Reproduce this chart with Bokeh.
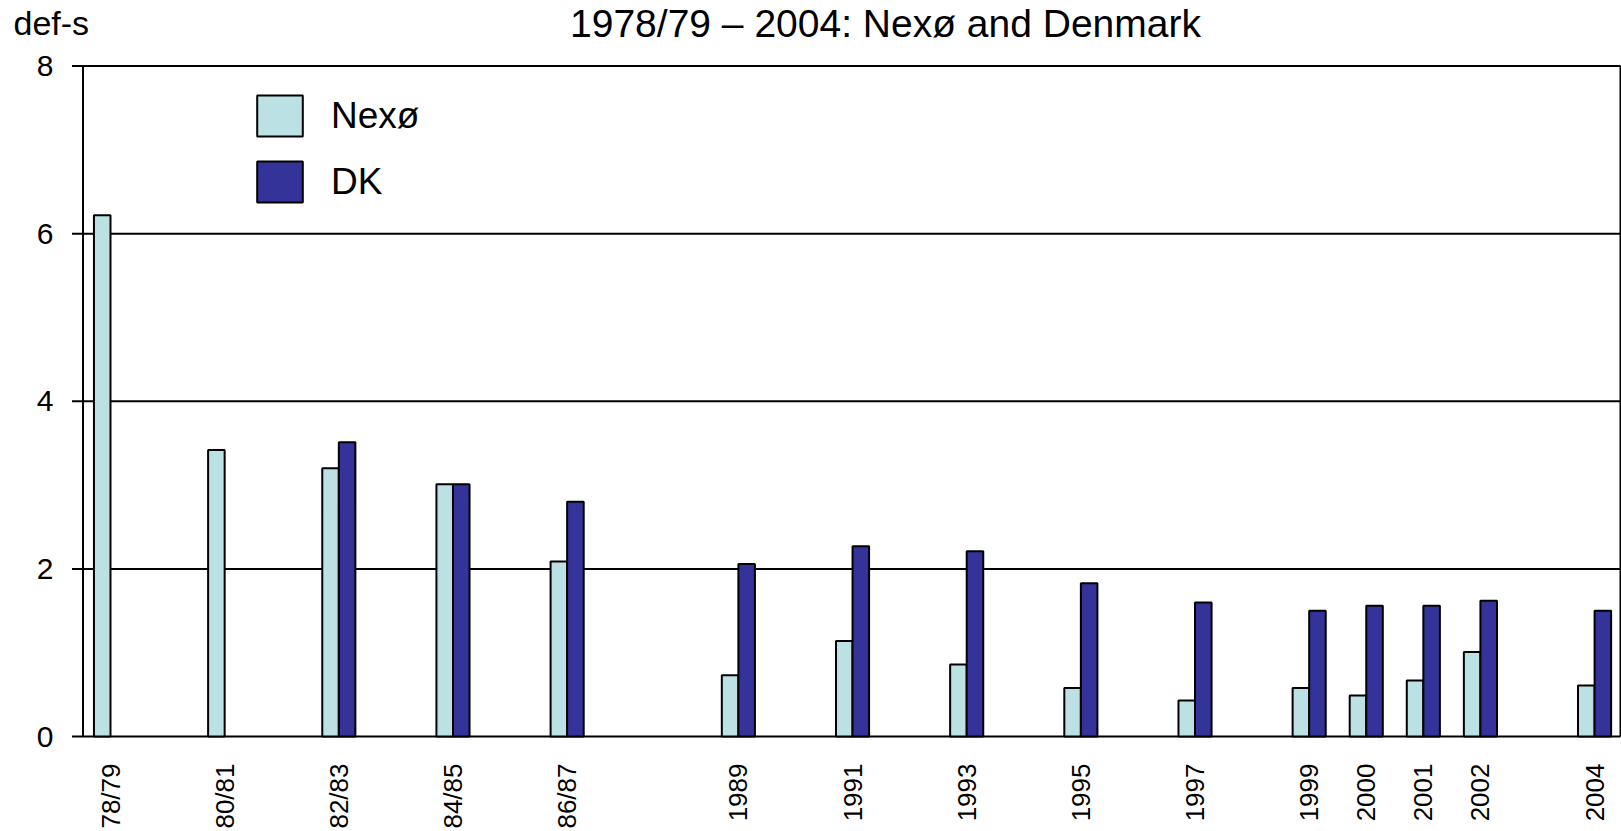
from bokeh.plotting import figure
from bokeh.models import ColumnDataSource, Range1d, FixedTicker, Legend, LegendItem
from bokeh.core.properties import value
from bokeh.transform import dodge
from bokeh.embed import file_html
from bokeh.resources import INLINE

# Survey years (numeric positions on the time axis) and their printed labels
years = [1978, 1980, 1982, 1984, 1986, 1989, 1991, 1993, 1995, 1997,
         1999, 2000, 2001, 2002, 2004]
year_labels = ["78/79", "80/81", "82/83", "84/85", "86/87", "1989", "1991",
               "1993", "1995", "1997", "1999", "2000", "2001", "2002", "2004"]

# def-s values
nexo = [6.22, 3.42, 3.20, 3.01, 2.09, 0.73, 1.14, 0.86, 0.58, 0.43,
        0.58, 0.49, 0.67, 1.01, 0.61]
dk = [None, None, 3.51, 3.01, 2.80, 2.06, 2.27, 2.21, 1.83, 1.60,
      1.50, 1.56, 1.56, 1.62, 1.50]

y_ticks = [0, 2, 4, 6, 8]
y_tick_labels = ["0", "2", "4", "6", "8"]

title_text = "1978/79 \u2013 2004: Nex\u00f8 and Denmark"
unit_text = "def-s"

FONT = "Liberation Sans"
NEXO_COLOR = "#BCE1E4"
DK_COLOR = "#333399"
BAR_W = 0.29

# Canvas geometry: the frame covers the whole canvas except the year-label strip
# at the bottom, so the value axis, the title and the unit text are drawn inside it.
W, H = 1621, 831
ZERO_PY = 738            # canvas row of value 0
FRAME_H = 762            # frame reaches a little below the zero line
PX_PER_YEAR = 57.08
PX_PER_UNIT = 84.04
X_START = 1978 - 110 / PX_PER_YEAR          # year at the canvas' left edge


def x_at(px):
    return X_START + px / PX_PER_YEAR


def y_at(py):
    return (ZERO_PY - py) / PX_PER_UNIT


PLOT_LEFT = x_at(82.5)      # value axis
PLOT_RIGHT = x_at(1620)     # right border
TICK_LEN = 11 / PX_PER_YEAR

src_nexo = ColumnDataSource(dict(year=years, value=nexo))
dk_years = [y for y, v in zip(years, dk) if v is not None]
dk_vals = [v for v in dk if v is not None]
src_dk = ColumnDataSource(dict(year=dk_years, value=dk_vals))

p = figure(width=W, height=H, output_backend="svg", toolbar_location=None,
           x_range=Range1d(X_START, x_at(W)), y_range=Range1d(y_at(FRAME_H), y_at(0)),
           y_axis_location=None,
           min_border_left=0, min_border_right=0, min_border_top=0,
           min_border_bottom=H - FRAME_H)
p.background_fill_color = "white"
p.border_fill_color = "white"
p.outline_line_color = None
p.xgrid.visible = False
p.ygrid.visible = False

# Gridlines with their outside ticks: the line at 0 is the base line,
# the line at 8 closes the plot area at the top
grid_src = ColumnDataSource(dict(y=y_ticks))
p.segment(x0=PLOT_LEFT - TICK_LEN, x1=PLOT_RIGHT, y0="y", y1="y", source=grid_src,
          line_color="black", line_width=2)
# Value axis line and right border
p.segment(x0=[PLOT_LEFT, PLOT_RIGHT], x1=[PLOT_LEFT, PLOT_RIGHT],
          y0=[y_ticks[0], y_ticks[0]], y1=[y_ticks[-1], y_ticks[-1]],
          line_color="black", line_width=2)

# Bars
r_nexo = p.vbar(x=dodge("year", -BAR_W / 2, range=p.x_range), top="value", bottom=0,
                width=BAR_W, source=src_nexo, fill_color=NEXO_COLOR,
                line_color="black", line_width=2)
r_dk = p.vbar(x=dodge("year", BAR_W / 2, range=p.x_range), top="value", bottom=0,
              width=BAR_W, source=src_dk, fill_color=DK_COLOR,
              line_color="black", line_width=2)

# Value tick labels
ylab_src = ColumnDataSource(dict(y=y_ticks, text=y_tick_labels))
p.text(x=x_at(53), y="y", text="text", source=ylab_src, text_font=value(FONT),
       text_font_size=value("30px"), text_align="right", text_baseline="middle",
       text_color="black")

# Unit text and title (placed by the middle of their line)
p.text(x=[x_at(13)], y=[y_at(23)], text=[unit_text], text_font=value(FONT),
       text_font_size=value("34px"), text_align="left", text_baseline="middle",
       text_color="black")
p.text(x=[x_at(885)], y=[y_at(23)], text=[title_text], text_font=value(FONT),
       text_font_size=value("39px"), text_align="center", text_baseline="middle",
       text_color="black")

# Year axis
p.xaxis.ticker = FixedTicker(ticks=years)
p.xaxis.major_label_overrides = {y: lab for y, lab in zip(years, year_labels)}
p.xaxis.major_label_orientation = 1.5707963
p.xaxis.major_label_text_font = FONT
p.xaxis.major_label_text_font_size = "26px"
p.xaxis.major_label_text_color = "black"
p.xaxis.major_label_standoff = 3
p.xaxis.major_tick_out = 0
p.xaxis.major_tick_in = 0
p.xaxis.minor_tick_line_color = None
p.xaxis.axis_line_color = None

# Legend (area glyphs are drawn inset by 10% of the glyph box)
legend = Legend(items=[LegendItem(label="Nex\u00f8", renderers=[r_nexo]),
                       LegendItem(label="DK", renderers=[r_dk])],
                location=(251, 529 + FRAME_H - ZERO_PY), orientation="vertical")
legend.border_line_alpha = 0
legend.background_fill_alpha = 0
legend.padding = 0
legend.margin = 0
legend.glyph_width = 57
legend.glyph_height = 51
legend.spacing = 15
legend.label_standoff = 23
legend.label_text_font = FONT
legend.label_text_font_size = "37px"
legend.label_text_color = "black"
legend.label_height = 41
p.add_layout(legend)

open("out.html", "w").write(file_html(p, INLINE))
